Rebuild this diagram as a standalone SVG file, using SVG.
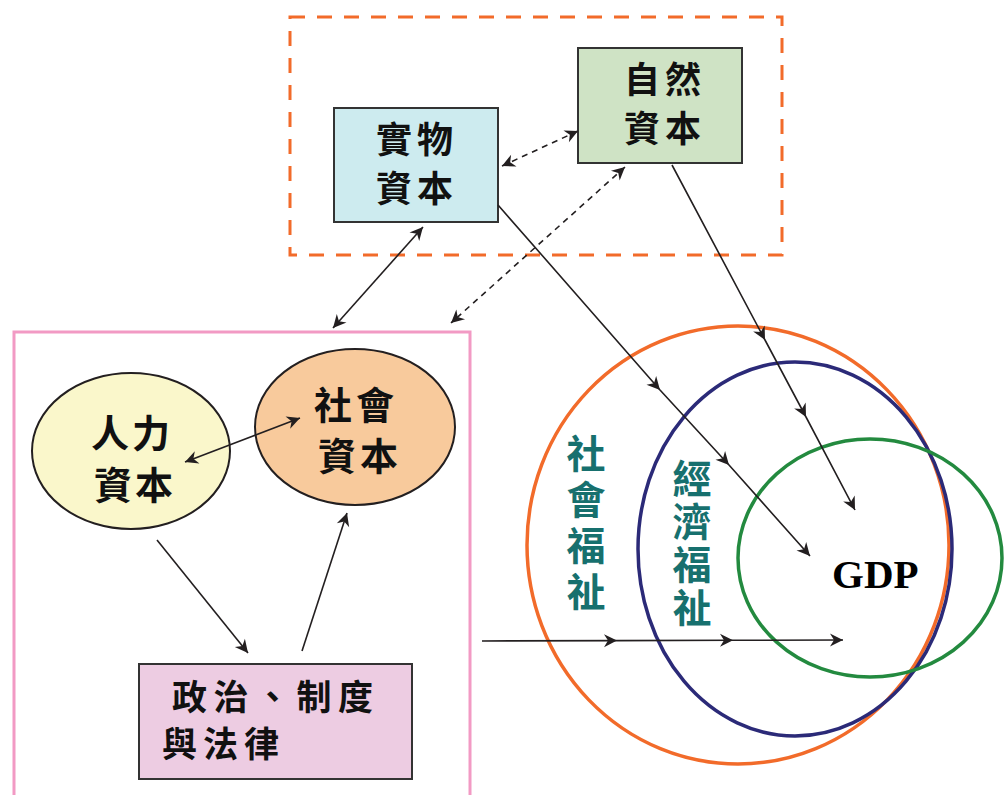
<svg xmlns="http://www.w3.org/2000/svg" width="1006" height="795" viewBox="0 0 1006 795">
<style>
.cjk{font-family:"Noto Sans CJK TC","Noto Sans CJK SC",sans-serif;font-weight:bold;fill:#111;}
.box{stroke:#333;stroke-width:2;}
.ln{fill:none;stroke:#231F20;stroke-width:1.6;}
.dash{stroke-dasharray:6 5;}
.teal{fill:#17706E;}
.vert{writing-mode:vertical-rl;}
</style>
<defs>
<marker id="ah" viewBox="-14 -7 15 14" refX="0" refY="0" markerWidth="15" markerHeight="14" markerUnits="userSpaceOnUse" orient="auto-start-reverse">
<path d="M0,0 L-13,-6.5 L-9,0 L-13,6.5 Z" fill="#231F20"/>
</marker>
</defs>
<rect width="1006" height="795" fill="#fff"/>
<g id="groupPhysical">
<rect x="290" y="17" width="492" height="238" fill="none" stroke="#F26B2A" stroke-width="3" stroke-dasharray="15 12"/>
</g>
<g id="groupSocial">
<rect x="14" y="332" width="456" height="480" fill="none" stroke="#F29AC4" stroke-width="3"/>
</g>
<g id="circles">
<ellipse cx="738" cy="545" rx="211" ry="219" fill="none" stroke="#F26B2A" stroke-width="3.5"/>
<ellipse cx="795" cy="549" rx="157" ry="187" fill="none" stroke="#2B2A78" stroke-width="3.5"/>
<ellipse cx="870" cy="558" rx="132" ry="119" fill="none" stroke="#238A3F" stroke-width="3.5"/>
</g>
<g id="node-physical">
<rect class="box" x="334" y="108" width="164" height="114" fill="#CDEBEF"/>
<text class="cjk" font-size="36" letter-spacing="5"><tspan x="376" y="153">實物</tspan><tspan x="376" y="202">資本</tspan></text>
</g>
<g id="node-natural">
<rect class="box" x="578" y="48" width="164" height="115" fill="#CFE3C5"/>
<text class="cjk" font-size="36" letter-spacing="5"><tspan x="624" y="93">自然</tspan><tspan x="624" y="142">資本</tspan></text>
</g>
<g id="node-human">
<ellipse cx="131" cy="451" rx="99" ry="78" fill="#FAF7CB" stroke="#231F20" stroke-width="2"/>
<text class="cjk" font-size="38" letter-spacing="3"><tspan x="91" y="447">人力</tspan><tspan x="94" y="499">資本</tspan></text>
</g>
<g id="node-socialcap">
<ellipse cx="355" cy="427" rx="100" ry="78" fill="#F8CA9C" stroke="#231F20" stroke-width="2"/>
<text class="cjk" font-size="38" letter-spacing="4"><tspan x="314" y="419">社會</tspan><tspan x="318" y="470">資本</tspan></text>
</g>
<g id="node-politics">
<rect class="box" x="139" y="664" width="273" height="115" fill="#EDCCE2"/>
<text class="cjk" font-size="35" letter-spacing="6.5"><tspan x="172" y="710">政治、制度</tspan><tspan x="162" y="757" letter-spacing="6">與法律</tspan></text>
</g>
<g id="label-social-welfare">
<text class="cjk teal vert" x="586" y="434" font-size="39" letter-spacing="7">社會福祉</text>
</g>
<g id="label-economic-welfare">
<text class="cjk teal vert" x="692" y="459" font-size="39" letter-spacing="4">經濟福祉</text>
</g>
<g id="label-gdp">
<text x="832" y="588" font-family="Liberation Serif, serif" font-weight="bold" font-size="41" fill="#000">GDP</text>
</g>
<g id="connectors">
<path class="ln dash" d="M502,166 L578,131" marker-start="url(#ah)" marker-end="url(#ah)"/>
<path class="ln" d="M423,227 L333,328" marker-start="url(#ah)" marker-end="url(#ah)"/>
<path class="ln dash" d="M625,167 L451,323" marker-start="url(#ah)" marker-end="url(#ah)"/>
<path class="ln" d="M498,205 L660,390 L729,465 L810,556" marker-mid="url(#ah)" marker-end="url(#ah)"/>
<path class="ln" d="M672,165 L765,340 L806,417 L855,510" marker-mid="url(#ah)" marker-end="url(#ah)"/>
<path class="ln" d="M157,540 L248,653" marker-end="url(#ah)"/>
<path class="ln" d="M302,651 L347,513" marker-end="url(#ah)"/>
<path class="ln" d="M185,462 L300,418" marker-start="url(#ah)" marker-end="url(#ah)"/>
<path class="ln" d="M482,641 L617,640.6 L733,640.3 L843,640" marker-mid="url(#ah)" marker-end="url(#ah)"/>
</g>
</svg>
